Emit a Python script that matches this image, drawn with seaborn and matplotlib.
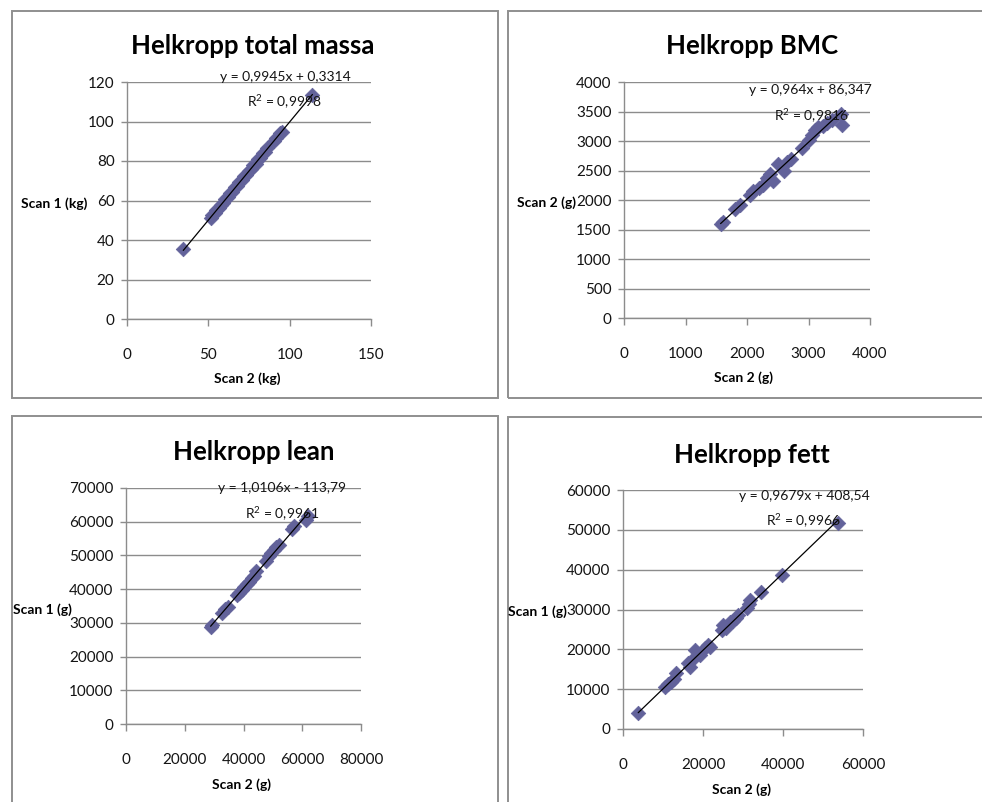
import numpy as np
import pandas as pd
import matplotlib
matplotlib.use("Agg")
import matplotlib.pyplot as plt
from matplotlib.patches import Rectangle
import seaborn as sns

# ---- data: scan 2 (x) vs scan 1 (y) for each whole-body measure ----
massa_scan2 = [34.6, 51.4, 52.5, 53.8, 55.0, 56.3, 57.5, 59.0, 60.5, 62.0, 63.5, 64.8,
               66.2, 67.5, 69.0, 70.5, 72.0, 73.3, 74.7, 76.0, 77.5, 79.0, 80.5, 82.0,
               83.5, 85.0, 86.0, 90.3, 91.5, 94.0, 95.0, 114.0]
massa_scan1 = [35.5, 51.0, 52.6, 53.5, 55.3, 56.0, 57.9, 58.7, 60.9, 61.8, 63.9, 64.5,
               66.6, 67.2, 69.4, 70.3, 72.4, 73.0, 75.1, 75.8, 77.8, 78.7, 80.9, 81.7,
               83.9, 84.7, 86.8, 90.0, 91.4, 94.3, 94.7, 113.3]

bmc_scan2 = [1570, 1610, 1800, 1880, 2050, 2100, 2200, 2260, 2330, 2380, 2420, 2500, 2600,
             2650, 2720, 2890, 3010, 3060, 3100, 3160, 3240, 3300, 3380, 3530, 3550]
bmc_scan1 = [1590, 1630, 1840, 1910, 2090, 2160, 2200, 2260, 2380, 2440, 2320, 2610, 2490,
             2640, 2690, 2880, 3010, 3110, 3190, 3230, 3250, 3300, 3350, 3460, 3270]

lean_scan2 = [28800, 29300, 32800, 33700, 34600, 37800, 38500, 39500, 40300, 41200, 42000,
              42800, 43700, 44400, 47700, 48600, 49500, 50300, 51100, 52000, 56500, 57300,
              61200, 62000]
lean_scan1 = [28700, 29300, 32900, 34000, 34800, 38400, 39000, 39600, 40600, 41500, 42100,
              43300, 44000, 45500, 48200, 49700, 50700, 51600, 52600, 53200, 57900, 58600,
              60400, 61800]

fett_scan2 = [3800, 10500, 11300, 12000, 12800, 13300, 16300, 16800, 17300, 18000, 19300,
              20500, 21200, 21800, 24700, 25100, 25700, 26700, 27500, 28300, 28800, 30900,
              31400, 31800, 34600, 39700, 53800]
fett_scan1 = [4100, 10500, 11300, 11900, 12500, 14000, 16500, 15600, 17200, 19800, 18600,
              20300, 21000, 20600, 24800, 26000, 25400, 26900, 27200, 27900, 28600, 30500,
              31500, 32500, 34500, 38600, 51600]

# trendline coefficients (slope, intercept) and R^2 as printed on each chart
fits = {
    "massa": (0.9945, 0.3314, "y = 0,9945x + 0,3314", "0,9998"),
    "bmc": (0.964, 86.347, "y = 0,964x + 86,347", "0,9816"),
    "lean": (1.0106, -113.79, "y = 1,0106x - 113,79", "0,9961"),
    "fett": (0.9679, 408.54, "y = 0,9679x + 408,54", "0,9966"),
}

titles = ["Helkropp total massa", "Helkropp BMC", "Helkropp lean", "Helkropp fett"]
xlabels = ["Scan 2 (kg)", "Scan 2 (g)", "Scan 2 (g)", "Scan 2 (g)"]
ylabels = ["Scan 1 (kg)", "Scan 2 (g)", "Scan 1 (g)", "Scan 1 (g)"]
xticks = [[0, 50, 100, 150], [0, 1000, 2000, 3000, 4000],
          [0, 20000, 40000, 60000, 80000], [0, 20000, 40000, 60000]]
yticks = [list(range(0, 121, 20)), list(range(0, 4001, 500)),
          list(range(0, 70001, 10000)), list(range(0, 60001, 10000))]

sns.set_style("white")
plt.rcParams["font.family"] = ["Lato", "DejaVu Sans"]
plt.rcParams["mathtext.fontset"] = "custom"
plt.rcParams["mathtext.rm"] = "Lato"
plt.rcParams["mathtext.it"] = "Lato:italic"

W, H = 982, 802
fig = plt.figure(figsize=(W / 100, H / 100), dpi=100)
fig.patch.set_facecolor("white")


def fx(x):
    return x / W


def fy(y):
    return 1 - y / H


GRID = "#8c8c8c"
MARK = "#62629a"
TXT = "#141414"

# panel frames (left, top, right, bottom) in pixels
frames = [(12, 11, 498, 398), (508, 11, 1000, 398),
          (12, 416, 498, 820), (508, 417, 1000, 820)]
for l, t, r, b in frames:
    fig.add_artist(Rectangle((fx(l), fy(b)), (r - l) / W, (b - t) / H,
                             transform=fig.transFigure, fill=False,
                             edgecolor="#8f8f8f", lw=1.4))

# plot areas (left, top, right, bottom) in pixels
areas = [(127, 82, 371, 319), (624, 82, 870, 318),
         (126, 488, 361, 724), (623, 490, 863, 729)]
title_pos = [(253, 46), (752, 46), (254, 452), (752, 455)]
xlab_pos = [(247, 379), (744, 378), (242, 785), (741, 790)]
ylab_pos = [(87, 204), (576, 203), (72, 610), (567, 612)]
eq_pos = [(285, 77, 284, 102), (810, 90, 811, 116),
          (282, 488, 282, 514), (804, 496, 803, 521)]

series = [("massa", massa_scan2, massa_scan1), ("bmc", bmc_scan2, bmc_scan1),
          ("lean", lean_scan2, lean_scan1), ("fett", fett_scan2, fett_scan1)]

for i, (key, xs, ys) in enumerate(series):
    l, t, r, b = areas[i]
    ax = fig.add_axes([fx(l), fy(b), (r - l) / W, (b - t) / H])
    df = pd.DataFrame({"scan2": xs, "scan1": ys})
    sns.scatterplot(data=df, x="scan2", y="scan1", ax=ax, marker="D", s=55,
                    color=MARK, edgecolor=MARK, linewidth=0.5, zorder=3)
    k, m, eq, r2 = fits[key]
    xl = np.array([min(xs), max(xs)])
    ax.plot(xl, k * xl + m, color="black", lw=0.9, zorder=4)

    ax.set_xlim(xticks[i][0], xticks[i][-1])
    ax.set_ylim(yticks[i][0], yticks[i][-1])
    ax.set_xticks(xticks[i])
    ax.set_yticks(yticks[i])
    ax.set_xticklabels([str(v) for v in xticks[i]])
    ax.set_yticklabels([str(v) for v in yticks[i]])
    ax.set_xlabel("")
    ax.set_ylabel("")
    ax.yaxis.grid(True, color=GRID, lw=1)
    ax.xaxis.grid(False)
    ax.set_axisbelow(True)
    for s in ["top", "right"]:
        ax.spines[s].set_visible(False)
    for s in ["left", "bottom"]:
        ax.spines[s].set_color(GRID)
        ax.spines[s].set_linewidth(1)
    ax.tick_params(axis="y", direction="out", length=4, width=1, color=GRID,
                   pad=5, labelsize=11, labelcolor=TXT, left=True)
    ax.tick_params(axis="x", direction="out", length=5, width=1, color=GRID,
                   pad=16, labelsize=11, labelcolor=TXT, bottom=True)
    ax.set_facecolor("none")

    tx, ty = title_pos[i]
    fig.text(fx(tx), fy(ty), titles[i], ha="center", va="center",
             fontsize=18.5, fontweight="bold", color="black")
    xx, xy = xlab_pos[i]
    fig.text(fx(xx), fy(xy), xlabels[i], ha="center", va="center",
             fontsize=10, fontweight="bold", color="black")
    yx, yy = ylab_pos[i]
    fig.text(fx(yx), fy(yy), ylabels[i], ha="right", va="center",
             fontsize=10, fontweight="bold", color="black")
    e1x, e1y, e2x, e2y = eq_pos[i]
    fig.text(fx(e1x), fy(e1y), eq, ha="center", va="center",
             fontsize=10, color=TXT, zorder=6)
    fig.text(fx(e2x), fy(e2y), "R$^{2}$ = " + r2, ha="center", va="center",
             fontsize=10, color=TXT, zorder=6)

fig.savefig("out.png", dpi=100, facecolor="white")
